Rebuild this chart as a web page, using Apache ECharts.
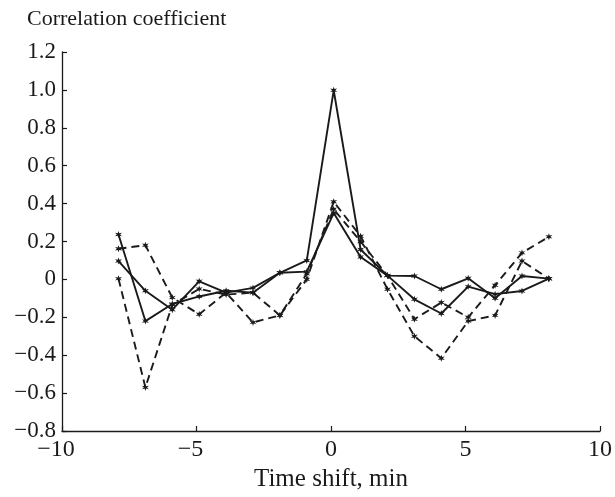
<!DOCTYPE html>
<html>
<head>
<meta charset="utf-8">
<script src="https://cdn.jsdelivr.net/npm/echarts@6/dist/echarts.min.js"></script>
<style>
html,body{margin:0;padding:0;background:#fff;}
#chart{width:615px;height:497px;}
</style>
</head>
<body>
<div id="chart"></div>
<script>
// Time shift (min) of each sample
var timeShift = [-7.9,-6.9,-5.9,-4.9,-3.9,-2.9,-1.9,-0.9,0.1,1.1,2.1,3.1,4.1,5.1,6.1,7.1,8.1];
// Solid series
var solidA = [0.097,-0.06,-0.16,-0.01,-0.07,-0.045,0.035,0.10,0.998,0.158,0.02,0.018,-0.052,0.006,-0.10,0.018,0.004];
var solidB = [0.237,-0.22,-0.13,-0.09,-0.06,-0.07,0.035,0.041,0.35,0.118,0.02,-0.105,-0.18,-0.038,-0.078,-0.061,0.004];
// Dashed series
var dashedC = [0.162,0.18,-0.096,-0.184,-0.07,-0.227,-0.19,0.0,0.41,0.228,-0.052,-0.30,-0.416,-0.22,-0.19,0.097,0.004];
var dashedD = [0.004,-0.57,-0.134,-0.05,-0.08,-0.07,-0.19,0.03,0.37,0.20,0.02,-0.21,-0.122,-0.20,-0.031,0.14,0.225];

var xTicks = [-10,-5,0,5,10];
var yTicks = [-0.8,-0.6,-0.4,-0.2,0,0.2,0.4,0.6,0.8,1.0,1.2];

var FONT = '"Liberation Serif","Times New Roman",serif';
var INK = '#1a1a1a';
var STAR = 'path://M5 0 L6 3.3 L9.3 2.5 L7 5 L9.3 7.5 L6 6.7 L5 10 L4 6.7 L0.7 7.5 L3 5 L0.7 2.5 L4 3.3 Z';

function pairs(ys){ return ys.map(function(v,i){ return [timeShift[i], v]; }); }
function minus(s){ return String(s).replace('-', '\u2212'); }

function mk(name, ys, dashed){
  return {
    name: name, type: 'line', data: pairs(ys),
    symbol: STAR, symbolSize: 7,
    itemStyle: {color: INK},
    lineStyle: {color: INK, width: 1.9, type: dashed ? [8,5] : 'solid'},
    animation: false, z: dashed ? 2 : 3
  };
}

var chart = echarts.init(document.getElementById('chart'));
chart.setOption({
  backgroundColor: '#fff',
  animation: false,
  grid: {left: 62, right: 14, top: 52, bottom: 65, containLabel: false},
  xAxis: {
    type: 'value', min: -10, max: 10, interval: 5,
    name: 'Time shift, min', nameLocation: 'middle', nameGap: 36,
    nameTextStyle: {fontFamily: FONT, fontSize: 25, color: INK},
    axisLine: {show: true, onZero: false, lineStyle: {color: INK, width: 1.3}},
    axisTick: {show: true, inside: true, length: 5, lineStyle: {color: INK, width: 1.2}},
    axisLabel: {fontFamily: FONT, fontSize: 24, color: INK, margin: 7,
      formatter: function(v){ return v < 0 ? '{neg|' + minus(v) + '}' : String(v); },
      rich: {neg: {fontFamily: FONT, fontSize: 24, color: INK, padding: [0, 12, 0, 0]}}},
    splitLine: {show: false}
  },
  yAxis: {
    type: 'value', min: -0.8, max: 1.2, interval: 0.2,
    name: 'Correlation coefficient', nameLocation: 'end', nameGap: 22,
    nameTextStyle: {fontFamily: FONT, fontSize: 22, color: INK, align: 'left', padding: [0,0,0,-35]},
    axisLine: {show: true, onZero: false, lineStyle: {color: INK, width: 1.3}},
    axisTick: {show: true, inside: true, length: 5, lineStyle: {color: INK, width: 1.2}},
    axisLabel: {fontFamily: FONT, fontSize: 23, color: INK, margin: 6,
      formatter: function(v){ return Math.abs(v) < 1e-9 ? '0' : minus(v.toFixed(1)); }},
    splitLine: {show: false}
  },
  series: [
    mk('A', solidA, false),
    mk('B', solidB, false),
    mk('C', dashedC, true),
    mk('D', dashedD, true)
  ]
});
</script>
</body>
</html>
